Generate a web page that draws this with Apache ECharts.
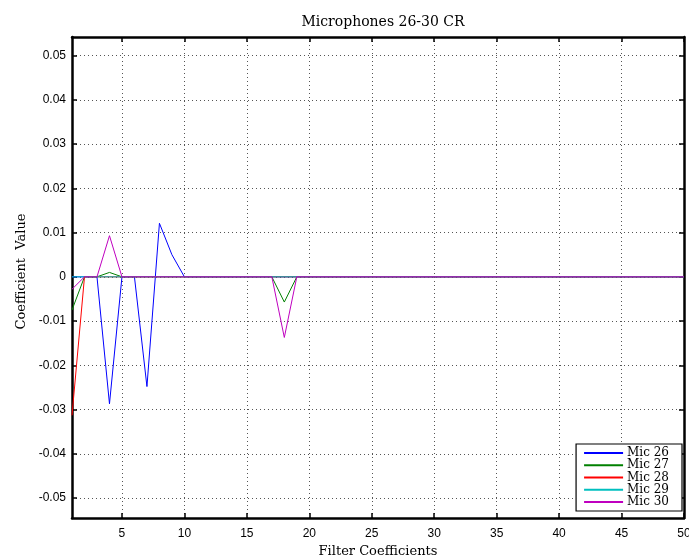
<!DOCTYPE html>
<html>
<head>
<meta charset="utf-8">
<script src="https://cdn.jsdelivr.net/npm/echarts@6/dist/echarts.min.js"></script>
<style>
  html, body { margin: 0; padding: 0; background: #fff; }
  #chart { width: 689px; height: 558px; }
</style>
</head>
<body>
<div id="chart"></div>
<script>
// filter coefficient index 1..50
const xTicks = [5, 10, 15, 20, 25, 30, 35, 40, 45, 50]
const yTicks = [-0.05, -0.04, -0.03, -0.02, -0.01, 0, 0.01, 0.02, 0.03, 0.04, 0.05]

const mic26 = [0, 0, 0, -0.0287, 0, 0, -0.0248, 0.0121, 0.005, 0,
  0, 0, 0, 0, 0, 0, 0, 0, 0, 0,
  0, 0, 0, 0, 0, 0, 0, 0, 0, 0,
  0, 0, 0, 0, 0, 0, 0, 0, 0, 0,
  0, 0, 0, 0, 0, 0, 0, 0, 0, 0]
const mic27 = [-0.0075, 0, 0, 0.001, 0, 0, 0, 0, 0, 0,
  0, 0, 0, 0, 0, 0, 0, -0.0057, 0, 0,
  0, 0, 0, 0, 0, 0, 0, 0, 0, 0,
  0, 0, 0, 0, 0, 0, 0, 0, 0, 0,
  0, 0, 0, 0, 0, 0, 0, 0, 0, 0]
const mic28 = [-0.0313, 0, 0, 0, 0, 0, 0, 0, 0, 0,
  0, 0, 0, 0, 0, 0, 0, 0, 0, 0,
  0, 0, 0, 0, 0, 0, 0, 0, 0, 0,
  0, 0, 0, 0, 0, 0, 0, 0, 0, 0,
  0, 0, 0, 0, 0, 0, 0, 0, 0, 0]
const mic29 = [0, 0, 0, 0, 0, 0, 0, 0, 0, 0,
  0, 0, 0, 0, 0, 0, 0, 0, 0, 0,
  0, 0, 0, 0, 0, 0, 0, 0, 0, 0,
  0, 0, 0, 0, 0, 0, 0, 0, 0, 0,
  0, 0, 0, 0, 0, 0, 0, 0, 0, 0]
const mic30 = [-0.0028, 0, 0, 0.0093, 0, 0, 0, 0, 0, 0,
  0, 0, 0, 0, 0, 0, 0, -0.0137, 0, 0,
  0, 0, 0, 0, 0, 0, 0, 0, 0, 0,
  0, 0, 0, 0, 0, 0, 0, 0, 0, 0,
  0, 0, 0, 0, 0, 0, 0, 0, 0, 0]

const names = ['Mic 26', 'Mic 27', 'Mic 28', 'Mic 29', 'Mic 30']
const colors = ['#0000ff', '#008000', '#ff0000', '#00bfbf', '#bf00bf']
const values = [mic26, mic27, mic28, mic29, mic30]

const serif = '"DejaVu Serif", "Liberation Serif", serif'
const sans = '"Liberation Sans", "DejaVu Sans", sans-serif'

const chart = echarts.init(document.getElementById('chart'))

// shared look of the box axes
const boxLine = { show: true, onZero: false, lineStyle: { color: '#000', width: 2.5 } }
const inTick = (vals) => ({ show: true, inside: true, length: 5, customValues: vals, lineStyle: { color: '#000', width: 1.5 } })
const dotted = { show: true, lineStyle: { color: '#555', type: [1, 3], width: 1 } }

chart.setOption({
  animation: false,
  title: {
    text: 'Microphones 26-30 CR',
    left: 378, top: 10, textAlign: 'center',
    textStyle: { fontFamily: serif, fontWeight: 'normal', fontSize: 14, color: '#000' }
  },
  grid: { left: 72, right: 5, top: 37, bottom: 40, outerBoundsMode: 'none' },
  legend: {
    orient: 'vertical',
    right: 7, bottom: 47,
    itemWidth: 39, itemHeight: 2, itemGap: 0,
    padding: [3, 13, 3, 8],
    backgroundColor: '#fff',
    borderColor: '#000', borderWidth: 1.2,
    icon: 'rect',
    textStyle: { fontFamily: serif, fontSize: 12, color: '#000', lineHeight: 12.2, padding: [0, 0, 0, -1] },
    data: names
  },
  xAxis: [{
    type: 'value', min: 1, max: 50, position: 'bottom',
    name: 'Filter Coefficients', nameLocation: 'middle', nameGap: 25,
    nameTextStyle: { fontFamily: serif, fontSize: 13, color: '#000' },
    axisLine: boxLine, axisTick: inTick(xTicks),
    axisLabel: { customValues: xTicks, margin: 10, fontFamily: sans, fontSize: 12, color: '#000' },
    splitLine: dotted
  }, {
    type: 'value', min: 1, max: 50, position: 'top',
    axisLine: boxLine, axisTick: inTick(xTicks),
    axisLabel: { show: false }, splitLine: { show: false }
  }],
  yAxis: [{
    type: 'value', min: -0.0545, max: 0.0542, position: 'left',
    name: 'Coefficient  Value', nameLocation: 'middle', nameGap: 44, nameRotate: 90,
    nameTextStyle: { fontFamily: serif, fontSize: 13, color: '#000', padding: [0, 0, 0, 12] },
    axisLine: boxLine, axisTick: inTick(yTicks),
    axisLabel: {
      customValues: yTicks, margin: 6, fontFamily: sans, fontSize: 12, color: '#000',
      formatter: (v) => (Math.abs(v) < 1e-9 ? '0' : v.toFixed(2))
    },
    splitLine: dotted
  }, {
    type: 'value', min: -0.0545, max: 0.0542, position: 'right',
    axisLine: boxLine, axisTick: inTick(yTicks),
    axisLabel: { show: false }, splitLine: { show: false }
  }],
  series: names.map((n, i) => ({
    name: n,
    type: 'line',
    xAxisIndex: 0, yAxisIndex: 0,
    data: values[i].map((v, k) => [k + 1, v]),
    showSymbol: false,
    color: colors[i],
    lineStyle: { width: 1, color: colors[i] },
    z: 3 + i
  }))
})
</script>
</body>
</html>
